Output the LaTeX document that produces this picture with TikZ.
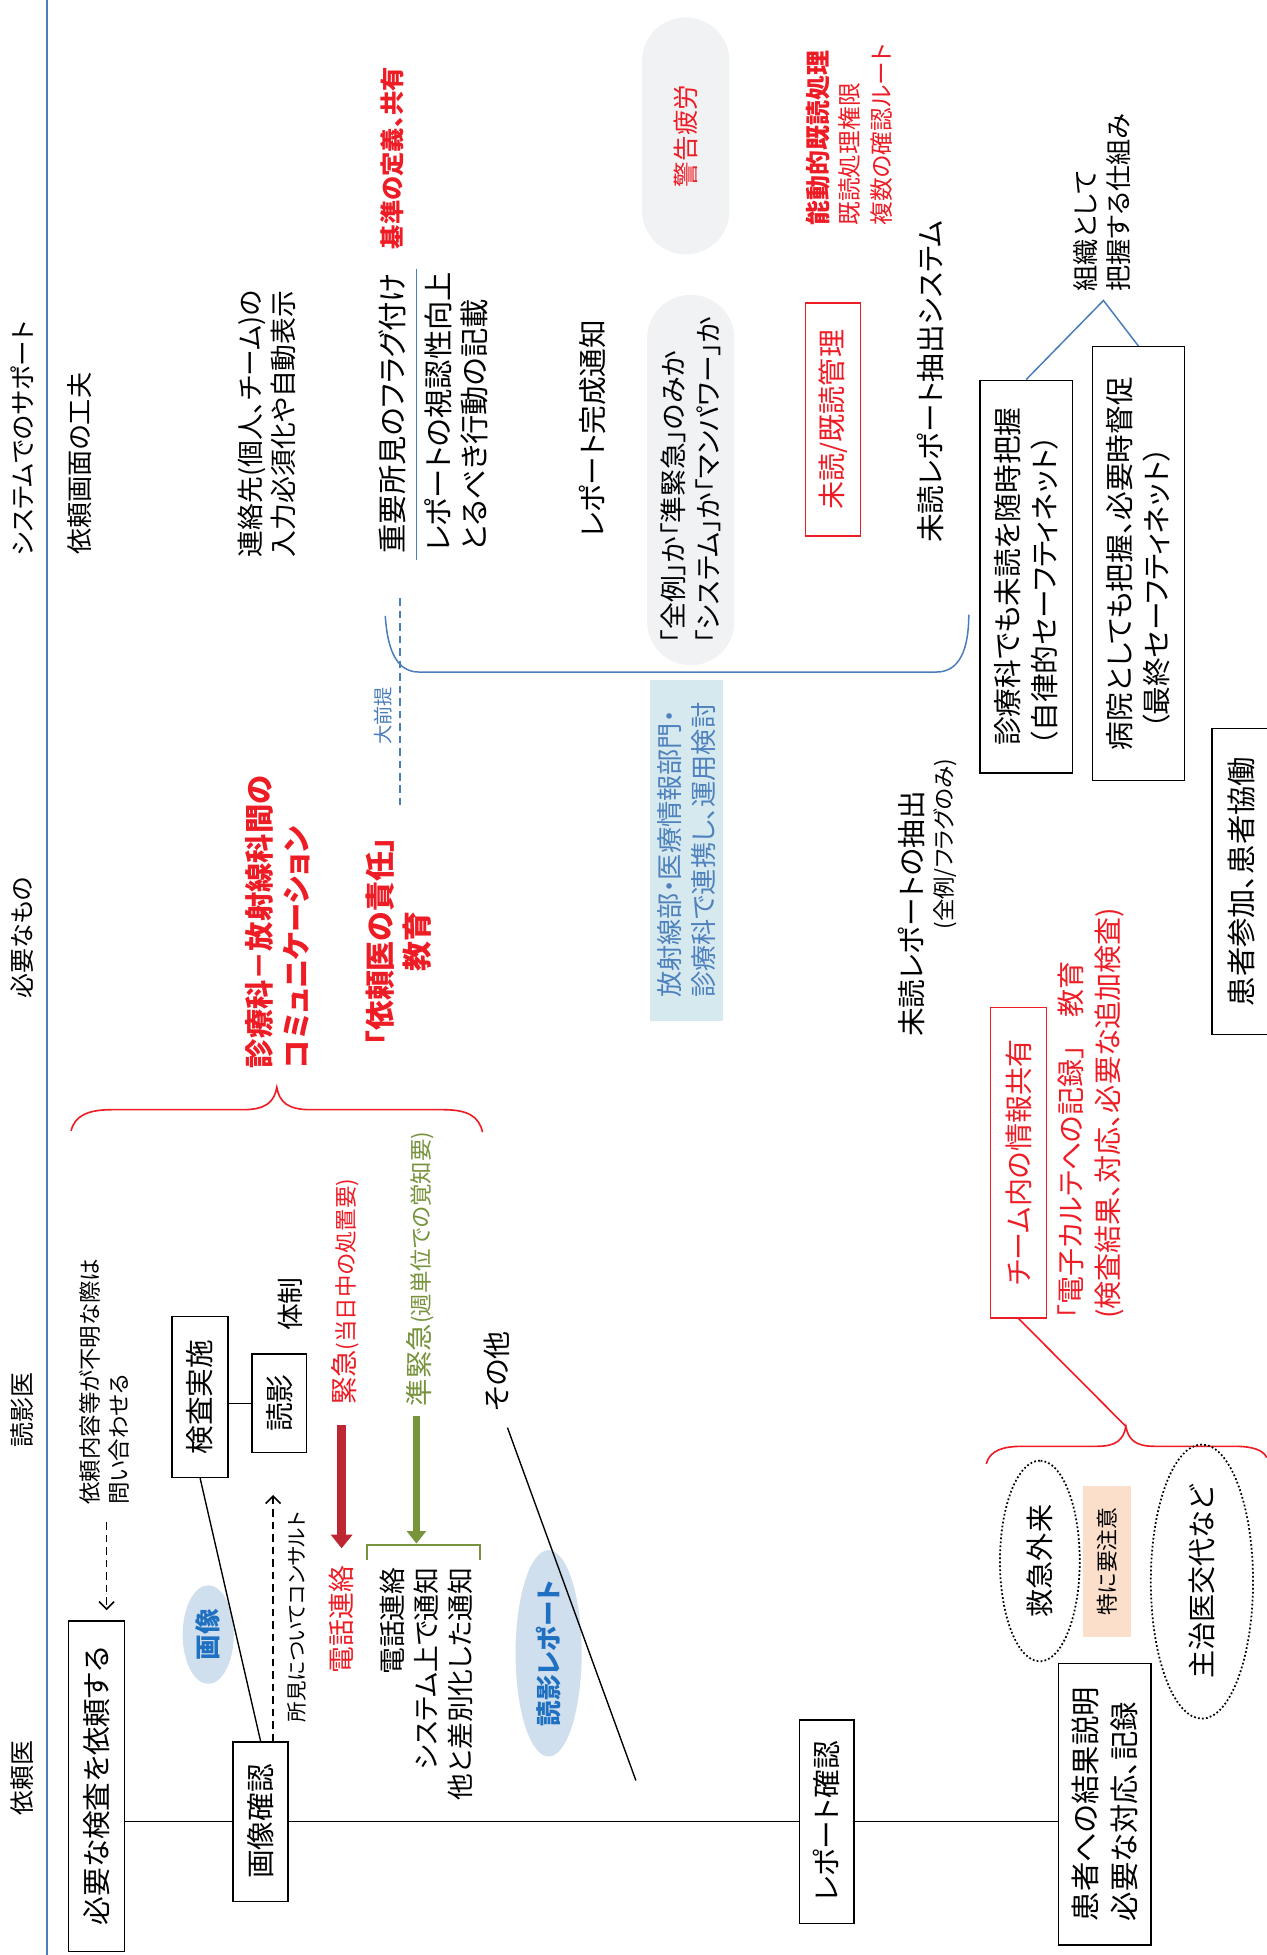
\documentclass[tikz,border=0pt]{standalone}
\usepackage{fontspec}
\setmainfont{Noto Sans CJK JP}[RawFeature=+palt]
\usetikzlibrary{arrows.meta,shapes.geometric}
\definecolor{lineblue}{HTML}{4A7EBB}
\definecolor{txtblue}{HTML}{1F70C1}
\definecolor{redtxt}{HTML}{EE1C25}
\definecolor{darkred}{HTML}{BE2633}
\definecolor{olivegr}{HTML}{77933C}
\definecolor{greyfill}{HTML}{F1F2F4}
\definecolor{ellblue}{HTML}{D0DFEE}
\definecolor{boxblue}{HTML}{D5E9EF}
\definecolor{bluetxt2}{HTML}{4F81BD}
\definecolor{peach}{HTML}{FBDFCB}
\newcommand\fz[2]{\fontsize{#1}{#2}\selectfont}
\tikzset{
  rt/.style={rotate=90, inner sep=0pt},
  bx/.style={draw, line width=1.1pt, rotate=90, inner sep=0pt, align=center},
  conn/.style={line width=1.1pt},
  dasharrow/.style={line width=1.3pt, dash pattern=on 6pt off 4pt, -{Straight Barb[length=6pt,width=12pt]}},
  dotell/.style={ellipse, draw, line width=1.4pt, dash pattern=on 1.4pt off 1.8pt, rotate=90, inner sep=0pt},
  fillell/.style={ellipse, fill=ellblue, rotate=90, inner sep=0pt, text=txtblue},
  redbrace/.style={redtxt, line width=1.3pt},
}
\begin{document}
\begin{tikzpicture}[x=1pt,y=-1pt]
\useasboundingbox (0,0) rectangle (1016,1568);
\fill[white] (0,0) rectangle (1016,1568);

% column headers and divider
\coordinate (divtop) at (37.5,0);
\coordinate (divbot) at (37.5,1568);
\draw[lineblue, line width=1.3pt] (divtop) -- (divbot);
\node[rt, font=\fz{20.5}{24}] (hsys) at (17.5,352) {システムでのサポート};
\node[rt, font=\fz{20}{24}] (hneed) at (17.5,752) {必要なもの};
\node[rt, font=\fz{20}{24}] (hrad) at (17.5,1131) {読影医};
\node[rt, font=\fz{20}{24}] (hreq) at (17.5,1426) {依頼医};

% system support
\node[rt, font=\fz{21}{25}] (screen) at (64,372) {依頼画面の工夫};
\node[rt, font=\fz{21.5}{26.5}, align=left, anchor=west] (contact) at (214,447) {連絡先(個人、チーム)の\\入力必須化や自動表示};
\node[rt, font=\fz{23.5}{27}, anchor=west] (flag) at (315,444) {重要所見のフラグ付け};
\node[rt, font=\bfseries\fz{19.5}{24}, text=redtxt, anchor=west] (crit) at (315,200) {基準の定義、共有};
\coordinate (ulA) at (334,216);
\coordinate (ulB) at (334,449);
\draw[lineblue, line width=1.2pt] (ulA) -- (ulB);
\node[rt, font=\fz{23.5}{29.5}, align=left, anchor=west] (vis) at (366,443) {レポートの視認性向上\\とるべき行動の記載};
\node[rt, font=\fz{23}{27}] (done) at (475,344) {レポート完成通知};
\node[rt, fill=greyfill, rounded corners=35pt, minimum width=190pt, minimum height=70pt, text=redtxt, font=\fz{20.5}{24}] (fatigue) at (550,109) {警告疲労};
\node[rt, fill=greyfill, rounded corners=35pt, minimum width=297pt, minimum height=70pt, font=\fz{21.5}{28}, align=left] (scope) at (554,385) {「全例」か「準緊急」のみか\\「システム」か「マンパワー」か};
\node[rt, fill=boxblue, minimum width=274pt, minimum height=59pt, text=bluetxt2, font=\fz{21}{27}, align=left] (collab) at (550.5,682) {放射線部・医療情報部門・\\診療科で連携し、運用検討};
\node[rt, text=redtxt, font=\fz{19}{25}, align=left, anchor=west] (active) at (681,181) {{\bfseries\fz{20}{25}能動的既読処理}\\既読処理権限\\複数の確認ルート};
\node[bx, draw=redtxt, line width=1.2pt, text=redtxt, minimum width=187pt, minimum height=44pt, font=\fz{22.5}{26}] (unread) at (668,336.5) {未読/既読管理};
\node[rt, font=\fz{23}{27}] (extsys) at (746,306) {未読レポート抽出システム};

% blue bracket and premise
\coordinate (brL) at (309,494);
\coordinate (brR) at (777,493);
\draw[lineblue, line width=1.2pt] (brL) .. controls (311,525) and (320,539) .. (336,539) -- (751,539) .. controls (770,539) and (777,520) .. (brR);
\coordinate (preA) at (321,480);
\coordinate (preB) at (321,648);
\draw[lineblue, line width=1.2pt, dash pattern=on 6pt off 4pt] (preA) -- (preB);
\node[rt, text=lineblue, font=\fz{15.5}{18}] (premise) at (307,574) {大前提};

% safety nets
\node[bx, minimum width=315pt, minimum height=74pt, font=\fz{23}{30}, align=left] (b1) at (823,462.5) {診療科でも未読を随時把握\\（自律的セーフティネット）};
\node[bx, minimum width=348pt, minimum height=74pt, font=\fz{23}{30}] (b2) at (913,452) {病院としても把握、必要時督促\\（最終セーフティネット）\hspace*{40pt}};
\coordinate (apex) at (885,241);
\draw[lineblue, line width=1.2pt] (b1.east) -- (apex) -- (b2.east);
\node[rt, font=\fz{21}{27}, align=left, anchor=west] (org) at (884,234) {組織として\\把握する仕組み};
\node[rt, font=\fz{23}{27}] (extract) at (731,733) {未読レポートの抽出};
\node[rt, font=\fz{18}{21}] (extract2) at (758,677) {(全例/フラグのみ)};
\node[bx, minimum width=245pt, minimum height=48pt, font=\fz{23.5}{27}] (partic) at (996,707) {患者参加、患者協働};

% communication
\node[rt, font=\bfseries\fz{23.5}{29.5}, text=redtxt, align=left, anchor=west] (comm) at (223,857) {診療科－放射線科間の\\コミュニケーション};
\node[rt, font=\bfseries\fz{24}{30}, text=redtxt, align=center] (resp) at (320,755) {「依頼医の責任」\\教育};
\coordinate (brace1tip) at (222,872);
\draw[redbrace] (57,907) .. controls (60,895) and (70,890) .. (90,890) -- (195,890) .. controls (213,890) and (220,884) .. (brace1tip) .. controls (224,884) and (231,890) .. (249,890) -- (355,890) .. controls (375,890) and (384,895) .. (387,908);

% requesting physician / radiologist flow
\node[bx, minimum width=265pt, minimum height=45pt, font=\fz{23}{26}] (req) at (77.5,1432.5) {必要な検査を依頼する};
\node[rt, font=\fz{18}{23}, align=left, anchor=west] (inq) at (83.5,1207) {依頼内容等が不明な際は\\問い合わせる};
\coordinate (inqtop) at (85.5,1221);
\draw[dasharrow, shorten >=8pt] (inqtop) -- (inqtop |- req.east);
\node[bx, minimum width=129pt, minimum height=45pt, font=\fz{23}{26}] (exam) at (160.5,1120.5) {検査実施};
\node[bx, minimum width=79pt, minimum height=44pt, font=\fz{23}{26}] (read) at (224,1125.5) {読影};
\draw[conn] (exam.south |- read) -- (read.north);
\node[rt, font=\fz{21.5}{25}] (sys) at (233,1046) {体制};
\node[bx, minimum width=128pt, minimum height=44pt, font=\fz{23}{26}] (imgchk) at (209,1461) {画像確認};
\node[fillell, minimum width=79pt, minimum height=41pt, font=\bfseries\fz{20.5}{24}] (imgell) at (167,1311) {画像};
\draw[conn] (imgchk.east) -- (exam.west);
\coordinate (cons) at (219,1199);
\draw[dasharrow] (imgchk.east -| cons) -- (cons);
\node[rt, font=\fz{16.5}{20}] (consult) at (238,1297) {所見についてコンサルト};

% urgent
\node[rt, anchor=west, text=redtxt, font=\fz{22}{26}] (urg) at (277,1127) {緊急{\fz{18}{21}(当日中の処置要)}};
\node[rt, text=redtxt, font=\fz{21.5}{25}] (tel) at (274,1299) {電話連絡};
\coordinate (urgA) at (274,1143);
\draw[darkred, line width=7.5pt, -{Triangle[length=11pt,width=17pt]}, shorten >=14pt] (urgA) -- (tel.east);

% semi-urgent
\node[rt, anchor=west, text=olivegr, font=\fz{22}{26}] (semi) at (337,1128) {準緊急{\fz{18}{21}(週単位での覚知要)}};
\coordinate (semiA) at (334,1136);
\coordinate (semiB) at (334,1238);
\draw[olivegr, line width=6pt, -{Triangle[length=10pt,width=15pt]}] (semiA) -- (semiB);
\coordinate (gbL) at (294,1251);
\coordinate (gbR) at (385,1251);
\draw[olivegr, line width=1.6pt] (gbL) -- (294,1239) -- (385,1239) -- (gbR);
\node[rt, anchor=east, align=right, font=\fz{21.5}{27}] (notif) at (342,1257) {電話連絡\\システム上で通知\\他と差別化した通知};

% others / report
\node[rt, font=\fz{22.5}{26}] (other) at (398.5,1100) {その他};
\node[fillell, minimum width=162pt, minimum height=53pt, font=\bfseries\fz{20.5}{24}] (repell) at (440,1326) {読影レポート};
\coordinate (otherA) at (407,1145);
\coordinate (otherB) at (510,1428);
\draw[conn] (otherA) -- (otherB);

% main time line
\node[bx, minimum width=163pt, minimum height=44pt, font=\fz{23}{26}] (repchk) at (663,1461) {レポート確認};
\node[bx, minimum width=226pt, minimum height=74pt, font=\fz{23.5}{31.5}, align=left] (patient) at (886,1447) {患者への結果説明\\必要な対応、記録};
\draw[conn] (req.south |- imgchk) -- (imgchk.north);
\draw[conn] (imgchk.south) -- (repchk.north);
\draw[conn] (repchk.south) -- (patient.north |- repchk);

% team information sharing
\node[bx, draw=redtxt, line width=1.2pt, text=redtxt, minimum width=249pt, minimum height=45pt, font=\fz{22.5}{26}] (team) at (817,932.5) {チーム内の情報共有};
\node[rt, text=redtxt, font=\fz{22.5}{29.5}, align=left, anchor=west] (karte) at (875,1058) {「電子カルテへの記録」　教育\\(検査結果、対応、必要な追加検査)};
\coordinate (brace2tip) at (903,1144);
\draw[redbrace] (team.west) -- (brace2tip);
\draw[redbrace] (791,1174) .. controls (794,1163) and (805,1160) .. (820,1160) -- (880,1160) .. controls (895,1160) and (901,1155) .. (brace2tip) .. controls (905,1155) and (911,1160) .. (926,1160) -- (990,1160) .. controls (1005,1160) and (1013,1163) .. (1016,1169);
\node[dotell, minimum width=161pt, minimum height=64pt, font=\fz{22.5}{26}] (er) at (834,1252) {救急外来};
\node[rt, fill=peach, minimum width=121pt, minimum height=38pt, font=\fz{17.5}{21}] (caution) at (888,1252.5) {特に要注意};
\node[dotell, minimum width=203pt, minimum height=82pt, font=\fz{22.5}{26}] (change) at (964,1268.5) {主治医交代など};
\end{tikzpicture}
\end{document}
